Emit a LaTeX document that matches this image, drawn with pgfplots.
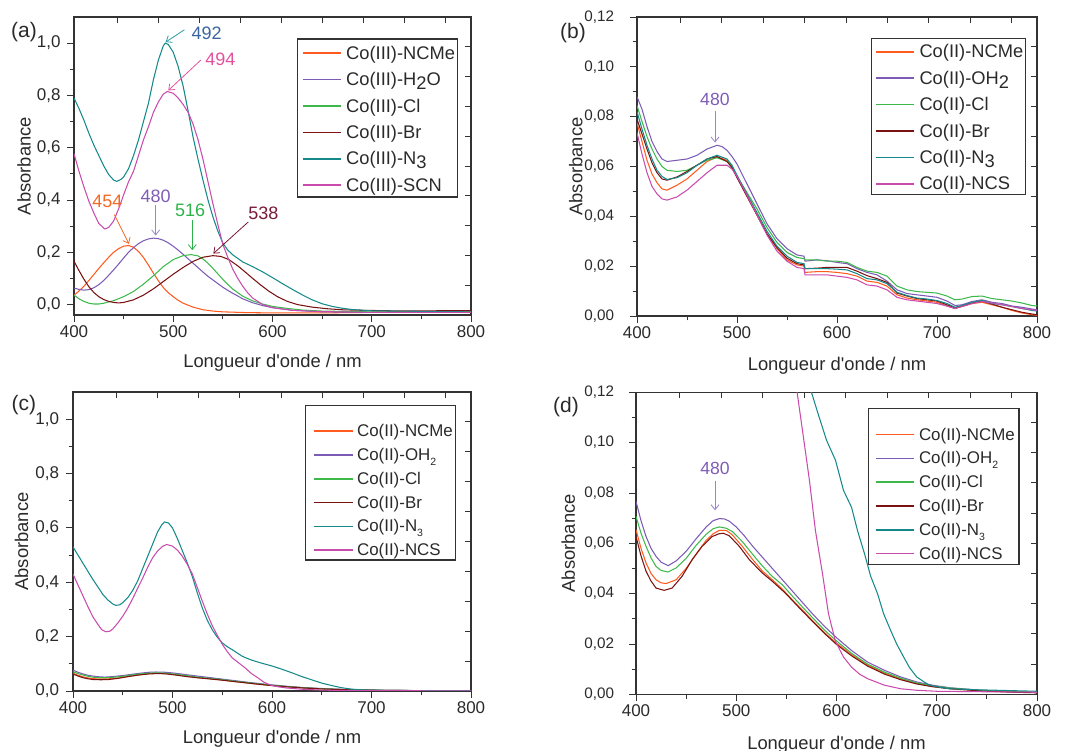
\documentclass[border=0pt]{standalone}
\usepackage{fontspec}
\setmainfont{Liberation Sans}
\usepackage{pgfplots}
\pgfplotsset{compat=1.18}
\usetikzlibrary{arrows.meta}

\definecolor{cNCMe}{HTML}{FF5B1E}
\definecolor{cH2O}{HTML}{7B5BB5}
\definecolor{cCl}{HTML}{3DB94C}
\definecolor{cBr}{HTML}{7A1212}
\definecolor{cN3}{HTML}{15898A}
\definecolor{cSCN}{HTML}{C94BAC}
\definecolor{axc}{HTML}{333333}
\definecolor{txt}{HTML}{2A2A2A}
\definecolor{a492}{HTML}{3A64A0}
\definecolor{a492arr}{HTML}{2A9AA0}
\definecolor{a494}{HTML}{E2519D}
\definecolor{a454}{HTML}{F26A22}
\definecolor{a480}{HTML}{7E5CB8}
\definecolor{a480arr}{HTML}{9A84CC}
\definecolor{a516}{HTML}{2DB24A}
\definecolor{a538}{HTML}{781A36}

\newcommand{\bsub}[1]{\raisebox{-0.42ex}{#1}}
\newcommand{\ssub}[1]{\raisebox{-0.55ex}{\fontsize{10.5}{11}\selectfont #1}}

\pgfplotsset{
 myax/.style={
  scale only axis, anchor=south west,
  xmin=400, xmax=800, xtick={400,500,600,700,800},
  minor x tick num=1, minor y tick num=1,
  xtick pos=left, ytick pos=left, tick align=outside,
  major tick length=7pt, minor tick length=4.5pt,
  axis line style={axc, line width=1.1pt},
  tick style={axc, line width=0.9pt},
  tick label style={font=\fontsize{17}{20}\selectfont, text=txt},
  xticklabel style={/pgf/number format/assume math mode=true},
  yticklabel style={/pgf/number format/use comma, /pgf/number format/fixed, /pgf/number format/fixed zerofill, /pgf/number format/assume math mode=true},
  label style={font=\fontsize{18.4}{22}\selectfont, text=txt},
  xlabel={Longueur d\textquotesingle onde / nm}, ylabel={Absorbance},
  legend cell align=left,
  every axis plot/.append style={line width=1.05pt},
 },
 ovl/.style={
  scale only axis, anchor=south west,
  xmin=0, xmax=1, ymin=0, ymax=1,
  axis line style={draw=none},
  xtick pos=right, ytick pos=right, tick align=inside,
  xticklabels={}, yticklabels={},
  xtick={0.1085,0.212,0.3155,0.419,0.5225,0.626,0.7295,0.833,0.9365},
  ytick={0.1,0.2,0.3,0.4,0.5,0.6,0.7,0.8,0.9},
  major tick length=6pt, tick style={axc, line width=0.9pt},
 },
 leglarge/.style={legend style={draw=none, fill=none, anchor=north west, inner sep=0pt, row sep=4.4pt,
   font=\fontsize{18.3}{20}\selectfont, text=txt, nodes={inner sep=2pt, text height=15pt, text depth=3pt}}},
 legsmall/.style={legend style={draw=none, fill=none, anchor=north west, inner sep=0pt, row sep=3.8pt,
   font=\fontsize{16.9}{19}\selectfont, text=txt, nodes={inner sep=1.5pt, text height=14pt, text depth=3pt}}},
}

\begin{document}
\begin{tikzpicture}[x=1pt,y=1pt]
\path[use as bounding box] (0,0) rectangle (1066,751);

% ---------------- (a) ----------------
\begin{axis}[myax, at={(74pt,436pt)}, width=397pt, height=298pt,
  ymin=-0.04, ymax=1.1, ytick={0,0.2,0.4,0.6,0.8,1.0},
  yticklabel style={/pgf/number format/precision=1, xshift=-3pt},
  xlabel style={at={(axis description cs:0.5,-0.161)}, anchor=center},
  ylabel style={at={(axis description cs:-0.126,0.5)}, anchor=center},
  legend image code/.code={\draw[#1, line width=1.6pt] (0pt,0pt) -- (38pt,0pt); \path (41pt,0pt);},
  leglarge, legend style={at={(0.5736,0.916)}}]
\addplot[cNCMe] coordinates {(400,0.035)(405,0.052)(410,0.07)(415,0.092)(420,0.115)(425,0.138)(430,0.16)(435,0.181)(440,0.2)(445,0.214)(450,0.223)(455,0.226)(460,0.219)(465,0.203)(470,0.18)(475,0.151)(480,0.12)(485,0.091)(490,0.065)(495,0.045)(500,0.03)(505,0.016)(510,0.005)(520,-0.01)(530,-0.02)(540,-0.025)(550,-0.028)(575,-0.031)(600,-0.032)(650,-0.032)(700,-0.03)(750,-0.027)(800,-0.025)};
\addlegendentry{Co(III)-NCMe}
\addplot[cH2O] coordinates {(400,0.063)(405,0.058)(410,0.055)(415,0.057)(420,0.064)(425,0.076)(430,0.092)(435,0.112)(440,0.133)(445,0.155)(450,0.178)(455,0.2)(460,0.218)(465,0.233)(470,0.244)(475,0.251)(480,0.254)(485,0.252)(490,0.246)(495,0.236)(500,0.223)(505,0.208)(510,0.192)(515,0.175)(520,0.158)(525,0.141)(530,0.124)(535,0.108)(540,0.094)(545,0.08)(550,0.066)(555,0.054)(560,0.043)(570,0.022)(580,0.007)(590,-0.004)(600,-0.012)(620,-0.022)(650,-0.028)(700,-0.03)(750,-0.03)(800,-0.03)};
\addlegendentry{Co(III)-H\bsub{2}O}
\addplot[cCl] coordinates {(400,0.036)(405,0.022)(410,0.012)(415,0.005)(420,0.002)(425,0.002)(430,0.005)(440,0.015)(450,0.03)(460,0.05)(470,0.078)(480,0.11)(490,0.145)(500,0.172)(510,0.187)(518,0.191)(525,0.186)(530,0.174)(535,0.158)(540,0.138)(545,0.117)(550,0.096)(555,0.077)(560,0.059)(570,0.032)(580,0.014)(590,0.002)(600,-0.007)(615,-0.015)(630,-0.021)(650,-0.025)(700,-0.028)(750,-0.028)(800,-0.028)};
\addlegendentry{Co(III)-Cl}
\addplot[cBr] coordinates {(400,0.166)(405,0.13)(410,0.097)(415,0.068)(420,0.046)(425,0.03)(430,0.019)(435,0.012)(440,0.008)(445,0.006)(450,0.008)(460,0.018)(470,0.036)(480,0.06)(490,0.088)(500,0.116)(510,0.142)(520,0.165)(530,0.181)(540,0.187)(548,0.184)(556,0.172)(565,0.148)(572,0.126)(580,0.1)(588,0.075)(596,0.052)(605,0.03)(615,0.012)(625,0.0)(640,-0.01)(655,-0.016)(670,-0.02)(690,-0.022)(720,-0.024)(760,-0.024)(800,-0.023)};
\addlegendentry{Co(III)-Br}
\addplot[cN3] coordinates {(400,0.79)(405,0.75)(410,0.705)(415,0.655)(420,0.61)(425,0.57)(430,0.53)(435,0.497)(440,0.476)(443,0.471)(447,0.478)(450,0.488)(455,0.52)(460,0.57)(465,0.63)(470,0.7)(475,0.77)(480,0.86)(485,0.935)(490,0.99)(492,1.0)(495,0.995)(500,0.965)(505,0.91)(510,0.835)(515,0.74)(520,0.64)(525,0.555)(530,0.475)(535,0.4)(540,0.335)(545,0.28)(550,0.235)(555,0.208)(560,0.19)(570,0.163)(580,0.145)(590,0.125)(600,0.103)(610,0.08)(620,0.058)(630,0.037)(640,0.018)(650,0.003)(660,-0.007)(670,-0.014)(680,-0.019)(700,-0.024)(750,-0.026)(800,-0.028)};
\addlegendentry{Co(III)-N\bsub{3}}
\addplot[cSCN] coordinates {(400,0.577)(405,0.51)(410,0.45)(415,0.395)(420,0.35)(425,0.31)(431,0.289)(435,0.295)(440,0.32)(446,0.376)(450,0.42)(455,0.47)(460,0.51)(465,0.57)(470,0.63)(475,0.68)(480,0.735)(485,0.775)(490,0.805)(494,0.815)(500,0.808)(505,0.79)(510,0.765)(515,0.735)(520,0.69)(525,0.63)(530,0.555)(535,0.47)(540,0.385)(545,0.305)(550,0.23)(555,0.18)(560,0.135)(565,0.1)(570,0.07)(575,0.045)(580,0.025)(590,0.0)(600,-0.012)(620,-0.022)(650,-0.027)(700,-0.03)(800,-0.03)};
\addlegendentry{Co(III)-SCN}
\draw[axc, line width=1.1pt] (rel axis cs:0.564,0.396) rectangle (rel axis cs:0.965,0.926);
\begin{scope}[line width=0.8pt, arrows={-Straight Barb[length=5pt,width=8pt]}]
\node[text=a492, font=\fontsize{18}{20}\selectfont] at (axis cs:533.7,1.038) {492};
\draw[a492arr] (axis cs:511.2,1.051) -- (axis cs:492.4,1.004);
\node[text=a494, font=\fontsize{18}{20}\selectfont] at (axis cs:547.4,0.938) {494};
\draw[a494] (axis cs:528,0.936) -- (axis cs:495,0.819);
\node[text=a454, font=\fontsize{18}{20}\selectfont] at (axis cs:433.6,0.395) {454};
\draw[a454] (axis cs:440.6,0.344) -- (axis cs:455.4,0.232);
\node[text=a480, font=\fontsize{18}{20}\selectfont] at (axis cs:482.3,0.413) {480};
\draw[a480arr] (axis cs:482.3,0.38) -- (axis cs:482.3,0.264);
\node[text=a516, font=\fontsize{18}{20}\selectfont] at (axis cs:516.9,0.359) {516};
\draw[a516] (axis cs:519.2,0.322) -- (axis cs:519.2,0.208);
\node[text=a538, font=\fontsize{18}{20}\selectfont] at (axis cs:590.8,0.348) {538};
\draw[a538] (axis cs:575.6,0.316) -- (axis cs:540.4,0.195);
\end{scope}
\end{axis}
\begin{axis}[ovl, at={(74pt,436pt)}, width=397pt, height=298pt]\end{axis}

% ---------------- (b) ----------------
\begin{axis}[myax, at={(637pt,435pt)}, width=400pt, height=299pt,
  ymin=0, ymax=0.12, ytick={0,0.02,0.04,0.06,0.08,0.1,0.12},
  yticklabel style={/pgf/number format/precision=2, xshift=-12.5pt, font=\fontsize{15.2}{18}\selectfont},
  xlabel style={at={(axis description cs:0.5,-0.166)}, anchor=center},
  ylabel style={at={(axis description cs:-0.153,0.5)}, anchor=center},
  legend image code/.code={\draw[#1, line width=1.6pt] (0pt,0pt) -- (38pt,0pt); \path (41pt,0pt);},
  leglarge, legend style={at={(0.595,0.921)}}]
\addplot[cNCMe] coordinates {(400,0.0775)(405,0.07)(410,0.0625)(415,0.057)(420,0.0535)(425,0.051)(430,0.0505)(440,0.0525)(450,0.055)(460,0.0585)(470,0.062)(480,0.0638)(490,0.0625)(495,0.0598)(500,0.0558)(510,0.048)(520,0.0405)(530,0.0328)(540,0.027)(550,0.0225)(560,0.0205)(567,0.02)(568,0.0175)(580,0.0178)(590,0.0178)(600,0.0175)(610,0.017)(620,0.016)(630,0.014)(640,0.0135)(650,0.012)(660,0.0085)(670,0.0072)(680,0.0065)(690,0.006)(700,0.0055)(710,0.004)(718,0.003)(725,0.0038)(735,0.005)(745,0.0055)(755,0.0045)(765,0.0035)(775,0.0022)(785,0.0012)(795,0.0005)(800,0.0003)};
\addlegendentry{Co(II)-NCMe}
\addplot[cH2O] coordinates {(400,0.088)(405,0.083)(410,0.076)(415,0.07)(420,0.066)(425,0.063)(430,0.062)(440,0.0625)(450,0.063)(460,0.0645)(470,0.067)(480,0.0685)(485,0.068)(490,0.0665)(495,0.064)(500,0.061)(510,0.053)(520,0.045)(530,0.037)(540,0.031)(550,0.027)(560,0.0245)(567,0.024)(568,0.022)(580,0.0225)(590,0.0222)(600,0.0215)(610,0.021)(620,0.019)(630,0.0175)(640,0.0165)(650,0.014)(660,0.0105)(670,0.009)(680,0.0085)(690,0.008)(700,0.0075)(710,0.006)(718,0.0042)(725,0.0045)(735,0.0058)(745,0.0065)(755,0.0055)(765,0.005)(775,0.004)(785,0.0035)(795,0.0028)(800,0.0025)};
\addlegendentry{Co(II)-OH\bsub{2}}
\addplot[cCl] coordinates {(400,0.0845)(405,0.078)(410,0.072)(415,0.067)(420,0.063)(425,0.06)(430,0.0585)(440,0.058)(450,0.0585)(460,0.0605)(470,0.0625)(480,0.0635)(490,0.062)(495,0.06)(500,0.056)(510,0.0495)(520,0.043)(530,0.0355)(540,0.0295)(550,0.0255)(560,0.0235)(567,0.023)(568,0.0225)(580,0.0225)(590,0.022)(600,0.022)(610,0.0215)(620,0.0195)(630,0.018)(640,0.0175)(650,0.016)(660,0.012)(670,0.0105)(680,0.0098)(690,0.0095)(700,0.0092)(710,0.008)(718,0.0065)(725,0.0068)(735,0.0078)(745,0.008)(755,0.007)(765,0.0065)(775,0.006)(785,0.0052)(795,0.0042)(800,0.004)};
\addlegendentry{Co(II)-Cl}
\addplot[cBr] coordinates {(400,0.079)(405,0.073)(410,0.067)(415,0.0615)(420,0.0575)(425,0.055)(430,0.0545)(440,0.0558)(450,0.058)(460,0.0605)(470,0.063)(480,0.064)(490,0.062)(495,0.0595)(500,0.0555)(510,0.048)(520,0.0405)(530,0.033)(540,0.0275)(550,0.0232)(560,0.021)(567,0.0205)(568,0.019)(580,0.0192)(590,0.0195)(600,0.0195)(610,0.0195)(620,0.018)(630,0.0162)(640,0.015)(650,0.0135)(660,0.0092)(670,0.008)(680,0.007)(690,0.0065)(700,0.006)(710,0.0045)(718,0.0032)(725,0.004)(735,0.0052)(745,0.006)(755,0.0048)(765,0.0035)(775,0.0025)(785,0.0015)(795,0.0008)(800,0.0005)};
\addlegendentry{Co(II)-Br}
\addplot[cN3] coordinates {(400,0.082)(405,0.075)(410,0.0685)(415,0.063)(420,0.0585)(425,0.056)(430,0.0548)(440,0.0555)(450,0.0575)(460,0.0605)(470,0.063)(480,0.0645)(490,0.063)(495,0.0605)(500,0.0565)(510,0.049)(520,0.0415)(530,0.034)(540,0.028)(550,0.024)(560,0.0215)(567,0.021)(568,0.019)(580,0.019)(590,0.019)(600,0.0188)(610,0.0185)(620,0.017)(630,0.015)(640,0.0145)(650,0.013)(660,0.0095)(670,0.0082)(680,0.0072)(690,0.0068)(700,0.0062)(710,0.005)(718,0.0035)(725,0.0042)(735,0.0055)(745,0.0062)(755,0.005)(765,0.0045)(775,0.0038)(785,0.003)(795,0.0022)(800,0.002)};
\addlegendentry{Co(II)-N\bsub{3}}
\addplot[cSCN] coordinates {(400,0.0735)(405,0.065)(410,0.0575)(415,0.052)(420,0.049)(425,0.047)(430,0.0465)(440,0.0478)(450,0.0505)(460,0.054)(470,0.0575)(480,0.0605)(490,0.0605)(495,0.059)(500,0.056)(510,0.0485)(520,0.0405)(530,0.0325)(540,0.026)(550,0.022)(560,0.0195)(567,0.019)(568,0.0165)(580,0.0165)(590,0.0165)(600,0.016)(610,0.0155)(620,0.0145)(630,0.0125)(640,0.012)(650,0.0105)(660,0.0075)(670,0.0065)(680,0.006)(690,0.0055)(700,0.005)(710,0.004)(718,0.003)(725,0.0038)(735,0.005)(745,0.0058)(755,0.0052)(765,0.0045)(775,0.0038)(785,0.003)(795,0.0025)(800,0.0022)};
\addlegendentry{Co(II)-NCS}
\draw[axc, line width=1.1pt] (rel axis cs:0.587,0.405) rectangle (rel axis cs:0.972,0.929);
\node[text=a480, font=\fontsize{17.6}{20}\selectfont] at (axis cs:477.9,0.0868) {480};
\draw[a480arr, line width=0.8pt, -{Straight Barb[length=5pt,width=8pt]}] (axis cs:478,0.0821) -- (axis cs:478,0.0696);
\end{axis}
\begin{axis}[ovl, at={(637pt,435pt)}, width=400pt, height=299pt]\end{axis}

% ---------------- (c) ----------------
\begin{axis}[myax, at={(73pt,60pt)}, width=398pt, height=299pt,
  ymin=0, ymax=1.1, ytick={0,0.2,0.4,0.6,0.8,1.0},
  yticklabel style={/pgf/number format/precision=1, xshift=-3.5pt},
  xlabel style={at={(axis description cs:0.5,-0.16)}, anchor=center},
  ylabel style={at={(axis description cs:-0.129,0.5)}, anchor=center},
  legend image code/.code={\draw[#1, line width=1.6pt] (0pt,0pt) -- (39pt,0pt); \path (41.5pt,0pt);},
  legsmall, legend style={at={(0.602,0.903)}}]
\addplot[cNCMe] coordinates {(400,0.0654)(405,0.058)(410,0.0522)(415,0.048)(420,0.0455)(425,0.0443)(430,0.044)(440,0.0455)(450,0.05)(460,0.0557)(470,0.0612)(477,0.0638)(483,0.0651)(490,0.0651)(496,0.0634)(506,0.0588)(516,0.0537)(526,0.049)(536,0.0455)(546,0.0418)(556,0.0375)(566,0.0335)(576,0.0293)(588,0.0245)(600,0.0203)(615,0.0158)(631,0.0116)(648,0.0084)(664,0.0061)(680,0.0043)(696,0.0031)(713,0.0023)(745,0.0014)(778,0.0009)(800,0.0007)};
\addlegendentry{Co(II)-NCMe}
\addplot[cH2O] coordinates {(400,0.0766)(405,0.069)(410,0.0627)(415,0.058)(420,0.0548)(425,0.0525)(432,0.0511)(440,0.053)(450,0.0568)(460,0.0618)(470,0.0665)(477,0.069)(483,0.0698)(488,0.0697)(493,0.0688)(500,0.0665)(508,0.063)(516,0.059)(526,0.0545)(536,0.05)(546,0.0455)(556,0.041)(566,0.0365)(576,0.032)(588,0.027)(600,0.0225)(615,0.0174)(631,0.0128)(648,0.0095)(664,0.0069)(680,0.0049)(696,0.0036)(713,0.0026)(745,0.0016)(778,0.001)(800,0.0008)};
\addlegendentry{Co(II)-OH\ssub{2}}
\addplot[cCl] coordinates {(400,0.0707)(405,0.064)(410,0.0588)(415,0.0542)(420,0.0508)(425,0.0492)(432,0.0486)(440,0.0502)(450,0.054)(460,0.0592)(470,0.0636)(477,0.0658)(483,0.0665)(490,0.066)(496,0.0647)(506,0.0607)(516,0.0558)(526,0.051)(536,0.0468)(546,0.0435)(556,0.039)(566,0.0347)(576,0.0305)(588,0.0255)(600,0.0212)(615,0.0163)(631,0.012)(648,0.0088)(664,0.0064)(680,0.0045)(696,0.0033)(713,0.0025)(745,0.0015)(778,0.001)(800,0.0008)};
\addlegendentry{Co(II)-Cl}
\addplot[cBr] coordinates {(400,0.0627)(405,0.055)(410,0.0489)(415,0.045)(420,0.0422)(428,0.0413)(436,0.0422)(446,0.0469)(456,0.0535)(466,0.0588)(476,0.0627)(483,0.0638)(487,0.064)(493,0.063)(503,0.0588)(513,0.0535)(526,0.0482)(536,0.0449)(549,0.0402)(563,0.0343)(576,0.029)(588,0.0242)(600,0.0198)(615,0.0153)(631,0.0112)(648,0.008)(664,0.0058)(680,0.0041)(696,0.003)(713,0.0022)(745,0.0013)(778,0.0008)(800,0.0006)};
\addlegendentry{Co(II)-Br}
\addplot[cN3] coordinates {(400,0.53)(405,0.5)(410,0.47)(415,0.44)(420,0.41)(425,0.383)(430,0.355)(435,0.335)(440,0.32)(443,0.315)(447,0.317)(450,0.325)(455,0.343)(460,0.37)(465,0.405)(470,0.45)(475,0.495)(480,0.54)(485,0.585)(489,0.61)(492,0.622)(496,0.618)(500,0.6)(505,0.56)(510,0.515)(515,0.47)(520,0.42)(525,0.36)(530,0.305)(535,0.26)(540,0.225)(545,0.198)(550,0.177)(555,0.163)(560,0.152)(565,0.14)(570,0.128)(575,0.12)(580,0.113)(590,0.102)(600,0.092)(610,0.08)(620,0.067)(630,0.053)(640,0.041)(650,0.029)(660,0.02)(670,0.012)(680,0.007)(690,0.004)(700,0.003)(720,0.002)(750,0.0015)(800,0.001)};
\addlegendentry{Co(II)-N\ssub{3}}
\addplot[cSCN] coordinates {(400,0.43)(405,0.39)(410,0.35)(415,0.31)(420,0.273)(425,0.245)(429,0.225)(433,0.218)(437,0.22)(440,0.228)(445,0.25)(450,0.275)(455,0.305)(460,0.34)(465,0.378)(470,0.415)(475,0.455)(480,0.49)(485,0.515)(490,0.532)(494,0.539)(500,0.533)(505,0.518)(510,0.495)(515,0.465)(520,0.43)(525,0.38)(530,0.33)(535,0.283)(540,0.24)(545,0.205)(550,0.172)(555,0.145)(560,0.122)(566,0.105)(573,0.085)(579,0.065)(586,0.048)(592,0.032)(599,0.021)(607,0.015)(615,0.011)(631,0.0062)(648,0.0036)(664,0.0022)(680,0.0016)(700,0.0012)(750,0.0008)(800,0.0005)};
\addlegendentry{Co(II)-NCS}
\draw[axc, line width=1.1pt] (rel axis cs:0.585,0.438) rectangle (rel axis cs:0.961,0.954);
\end{axis}
\begin{axis}[ovl, at={(73pt,60pt)}, width=398pt, height=299pt]\end{axis}

% ---------------- (d) ----------------
\begin{axis}[myax, at={(636pt,56.7pt)}, width=401pt, height=302pt,
  ymin=0, ymax=0.12, ytick={0,0.02,0.04,0.06,0.08,0.1,0.12},
  yticklabel style={/pgf/number format/precision=2, xshift=-11.5pt, font=\fontsize{15.2}{18}\selectfont},
  xlabel style={at={(axis description cs:0.5,-0.166)}, anchor=center},
  ylabel style={at={(axis description cs:-0.169,0.5)}, anchor=center},
  legend image code/.code={\draw[#1, line width=1.6pt] (0pt,0pt) -- (38pt,0pt); \path (41pt,0pt);},
  legsmall, legend style={at={(0.596,0.894)}}]
\addplot[cNCMe] coordinates {(400,0.0654)(405,0.058)(410,0.0522)(415,0.048)(420,0.0455)(425,0.0443)(430,0.044)(440,0.0455)(450,0.05)(460,0.0557)(470,0.0612)(477,0.0638)(483,0.0651)(490,0.0651)(496,0.0634)(506,0.0588)(516,0.0537)(526,0.049)(536,0.0455)(546,0.0418)(556,0.0375)(566,0.0335)(576,0.0293)(588,0.0245)(600,0.0203)(615,0.0158)(631,0.0116)(648,0.0084)(664,0.0061)(680,0.0043)(696,0.0031)(713,0.0023)(745,0.0014)(778,0.0009)(800,0.0007)};
\addlegendentry{Co(II)-NCMe}
\addplot[cH2O] coordinates {(400,0.0766)(405,0.069)(410,0.0627)(415,0.058)(420,0.0548)(425,0.0525)(432,0.0511)(440,0.053)(450,0.0568)(460,0.0618)(470,0.0665)(477,0.069)(483,0.0698)(488,0.0697)(493,0.0688)(500,0.0665)(508,0.063)(516,0.059)(526,0.0545)(536,0.05)(546,0.0455)(556,0.041)(566,0.0365)(576,0.032)(588,0.027)(600,0.0225)(615,0.0174)(631,0.0128)(648,0.0095)(664,0.0069)(680,0.0049)(696,0.0036)(713,0.0026)(745,0.0016)(778,0.001)(800,0.0008)};
\addlegendentry{Co(II)-OH\ssub{2}}
\addplot[cCl] coordinates {(400,0.0707)(405,0.064)(410,0.0588)(415,0.0542)(420,0.0508)(425,0.0492)(432,0.0486)(440,0.0502)(450,0.054)(460,0.0592)(470,0.0636)(477,0.0658)(483,0.0665)(490,0.066)(496,0.0647)(506,0.0607)(516,0.0558)(526,0.051)(536,0.0468)(546,0.0435)(556,0.039)(566,0.0347)(576,0.0305)(588,0.0255)(600,0.0212)(615,0.0163)(631,0.012)(648,0.0088)(664,0.0064)(680,0.0045)(696,0.0033)(713,0.0025)(745,0.0015)(778,0.001)(800,0.0008)};
\addlegendentry{Co(II)-Cl}
\addplot[cBr] coordinates {(400,0.0627)(405,0.055)(410,0.0489)(415,0.045)(420,0.0422)(428,0.0413)(436,0.0422)(446,0.0469)(456,0.0535)(466,0.0588)(476,0.0627)(483,0.0638)(487,0.064)(493,0.063)(503,0.0588)(513,0.0535)(526,0.0482)(536,0.0449)(549,0.0402)(563,0.0343)(576,0.029)(588,0.0242)(600,0.0198)(615,0.0153)(631,0.0112)(648,0.008)(664,0.0058)(680,0.0041)(696,0.003)(713,0.0022)(745,0.0013)(778,0.0008)(800,0.0006)};
\addlegendentry{Co(II)-Br}
\addplot[cN3] coordinates {(540,0.225)(545,0.198)(550,0.177)(555,0.163)(560,0.152)(565,0.14)(570,0.128)(575,0.12)(582,0.111)(590,0.101)(599,0.093)(607,0.081)(615,0.0743)(621,0.065)(628,0.0558)(634,0.047)(641,0.0399)(647,0.032)(654,0.0254)(660,0.02)(667,0.0148)(673,0.0105)(680,0.0069)(687,0.005)(693,0.0036)(703,0.0028)(713,0.0022)(740,0.0018)(770,0.0015)(800,0.0012)};
\addlegendentry{Co(II)-N\ssub{3}}
\addplot[cSCN] coordinates {(540,0.24)(545,0.205)(550,0.172)(555,0.145)(560,0.122)(566,0.105)(573,0.085)(579,0.065)(586,0.048)(592,0.032)(599,0.021)(607,0.0148)(615,0.0108)(623,0.008)(631,0.0062)(648,0.0036)(664,0.0022)(680,0.0016)(700,0.0012)(750,0.001)(800,0.0008)};
\addlegendentry{Co(II)-NCS}
\draw[axc, line width=1.1pt] (rel axis cs:0.579,0.431) rectangle (rel axis cs:0.955,0.947);
\node[text=a480, font=\fontsize{17.6}{20}\selectfont] at (axis cs:478.8,0.0899) {480};
\draw[a480arr, line width=0.8pt, -{Straight Barb[length=5pt,width=8pt]}] (axis cs:478.8,0.0847) -- (axis cs:478.8,0.0731);
\end{axis}
\begin{axis}[ovl, at={(636pt,56.7pt)}, width=401pt, height=302pt]\end{axis}

% panel letters
\node[anchor=west, text=txt, font=\fontsize{21}{24}\selectfont, inner sep=0pt] at (11,719.3) {(a)};
\node[anchor=west, text=txt, font=\fontsize{21}{24}\selectfont, inner sep=0pt] at (560,717.7) {(b)};
\node[anchor=west, text=txt, font=\fontsize{21}{24}\selectfont, inner sep=0pt] at (11.5,346) {(c)};
\node[anchor=west, text=txt, font=\fontsize{21}{24}\selectfont, inner sep=0pt] at (553,344.3) {(d)};
\end{tikzpicture}
\end{document}
